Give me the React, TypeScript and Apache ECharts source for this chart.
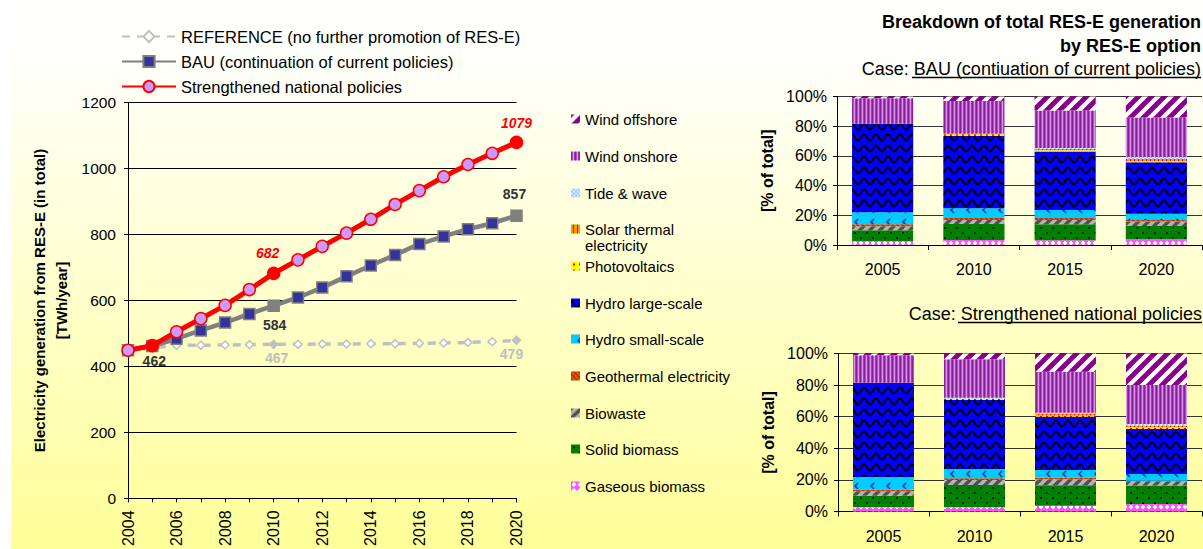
import React, { useEffect, useRef } from 'react';
import * as echarts from 'echarts';

// ---------- DATA ----------
const years = ['2004', '2005', '2006', '2007', '2008', '2009', '2010', '2011', '2012', '2013', '2014', '2015', '2016', '2017', '2018', '2019', '2020'];
const referenceValues = [449, 456, 464, 464, 465, 466, 467, 467, 468, 468, 469, 469, 470, 471, 473, 475, 479];
const bauValues = [449, 462, 484, 509, 533, 559, 584, 609, 639, 673, 706, 738, 771, 794, 816, 834, 857];
const strengthenedValues = [449, 463, 505, 545, 585, 633, 682, 723, 764, 804, 846, 891, 933, 975, 1012, 1046, 1079];

const lineNames = [
  'REFERENCE (no further promotion of RES-E)',
  'BAU (continuation of current policies)',
  'Strengthened national policies',
];

const barYears = ['2005', '2010', '2015', '2020'];
// stack order bottom -> top
const optionNames = [
  'Gaseous biomass',
  'Solid biomass',
  'Biowaste',
  'Geothermal electricity',
  'Hydro small-scale',
  'Hydro large-scale',
  'Photovoltaics',
  'Solar thermal electricity',
  'Tide & wave',
  'Wind onshore',
  'Wind offshore',
];
// shares [% of total] for 2005, 2010, 2015, 2020
const bauShares = [
  [2.5, 3.4, 3.2, 3.8],
  [7.5, 10.7, 10.8, 9.0],
  [2.7, 2.7, 2.8, 3.1],
  [1.3, 1.3, 1.3, 0.9],
  [8.0, 6.7, 5.4, 4.2],
  [59.7, 48.8, 39.4, 34.7],
  [0.0, 0.9, 0.9, 0.9],
  [0.0, 0.2, 0.9, 1.3],
  [0.0, 0.2, 0.6, 1.4],
  [17.2, 22.0, 25.3, 26.6],
  [1.1, 3.1, 9.4, 14.1],
];
const strengthenedShares = [
  [2.7, 2.7, 3.6, 4.8],
  [7.2, 14.1, 13.0, 11.6],
  [2.9, 3.2, 3.8, 2.8],
  [0.9, 1.1, 0.9, 0.2],
  [8.2, 5.8, 5.0, 4.4],
  [59.6, 43.6, 33.7, 28.4],
  [0.0, 0.9, 0.8, 1.3],
  [0.0, 0.0, 0.9, 0.6],
  [0.0, 0.6, 0.8, 1.3],
  [17.4, 24.4, 25.9, 24.6],
  [1.1, 3.6, 11.6, 20.0],
];
// legend order (top -> bottom) and vertical text centres
const legendOrder = [
  'Wind offshore',
  'Wind onshore',
  'Tide & wave',
  'Solar thermal electricity',
  'Photovoltaics',
  'Hydro large-scale',
  'Hydro small-scale',
  'Geothermal electricity',
  'Biowaste',
  'Solid biomass',
  'Gaseous biomass',
];
const legendCentres = [119, 156, 193, 229, 266, 303, 339, 376, 413, 449, 486];

const titleLines = 'Breakdown of total RES-E generation\nby RES-E option';
const caseBau = 'Case: BAU (contiuation of current policies)';
const caseStrengthened = 'Case: Strengthened national policies';

const FONT = '"Liberation Sans", Arial, sans-serif';

function makePattern(w: number, h: number, draw: (ctx: CanvasRenderingContext2D) => void) {
  const c = document.createElement('canvas');
  c.width = w;
  c.height = h;
  const ctx = c.getContext('2d') as CanvasRenderingContext2D;
  draw(ctx);
  return { image: c, repeat: 'repeat' } as any;
}

function diagStripes(size: number, bg: string, fg: string, lw: number) {
  return makePattern(size, size, (ctx) => {
    ctx.fillStyle = bg;
    ctx.fillRect(0, 0, size, size);
    ctx.strokeStyle = fg;
    ctx.lineWidth = lw;
    for (const k of [0, 1, 2]) {
      ctx.beginPath();
      ctx.moveTo(-2, k * size + 2);
      ctx.lineTo(k * size + 2, -2);
      ctx.stroke();
    }
  });
}

function buildPatterns(): Record<string, any> {
  return {
    'Wind offshore': diagStripes(13, '#FFFFFF', '#880088', 5),
    'Wind onshore': makePattern(4, 2, (ctx) => {
      const cols = ['#8A1E9C', '#B24CC6', '#DA98E8', '#A23AB6'];
      cols.forEach((c, i) => {
        ctx.fillStyle = c;
        ctx.fillRect(i, 0, 1, 2);
      });
    }),
    'Tide & wave': makePattern(4, 4, (ctx) => {
      ctx.fillStyle = '#99CCFF';
      ctx.fillRect(0, 0, 4, 4);
      ctx.fillStyle = '#D6EAFF';
      ctx.fillRect(0, 0, 2, 2);
      ctx.fillRect(2, 2, 2, 2);
    }),
    'Solar thermal electricity': makePattern(4, 2, (ctx) => {
      ctx.fillStyle = '#FF9900';
      ctx.fillRect(0, 0, 4, 2);
      ctx.fillStyle = '#FF0000';
      ctx.fillRect(2, 0, 1, 2);
    }),
    Photovoltaics: makePattern(6, 6, (ctx) => {
      ctx.fillStyle = '#FFFF00';
      ctx.fillRect(0, 0, 6, 6);
      ctx.fillStyle = '#FF0000';
      ctx.fillRect(2, 2, 2, 2);
    }),
    'Hydro large-scale': makePattern(12, 11, (ctx) => {
      ctx.fillStyle = '#0000FF';
      ctx.fillRect(0, 0, 12, 11);
      ctx.strokeStyle = '#000000';
      ctx.lineWidth = 2;
      ctx.beginPath();
      for (let x = -1; x <= 13; x += 0.5) {
        const y = 5.5 - 3 * Math.cos((2 * Math.PI * x) / 12);
        if (x === -1) ctx.moveTo(x, y);
        else ctx.lineTo(x, y);
      }
      ctx.stroke();
    }),
    'Hydro small-scale': makePattern(16, 12, (ctx) => {
      ctx.fillStyle = '#00CCFF';
      ctx.fillRect(0, 0, 16, 12);
      ctx.strokeStyle = '#1A2A9A';
      ctx.lineWidth = 1.5;
      ctx.beginPath();
      ctx.moveTo(10, 3);
      ctx.lineTo(7, 6);
      ctx.lineTo(10, 9);
      ctx.stroke();
    }),
    'Geothermal electricity': makePattern(5, 5, (ctx) => {
      ctx.fillStyle = '#B83300';
      ctx.fillRect(0, 0, 5, 5);
      ctx.strokeStyle = '#F06020';
      ctx.lineWidth = 1.3;
      for (const k of [-1, 0, 1]) {
        ctx.beginPath();
        ctx.moveTo(k * 5 - 1, -1);
        ctx.lineTo(k * 5 + 6, 6);
        ctx.stroke();
      }
    }),
    Biowaste: diagStripes(10, '#B4B4B4', '#505050', 3.4),
    'Solid biomass': makePattern(12, 10, (ctx) => {
      ctx.fillStyle = '#008000';
      ctx.fillRect(0, 0, 12, 10);
      ctx.fillStyle = '#002000';
      ctx.fillRect(2, 2, 2, 2);
      ctx.fillRect(8, 7, 2, 2);
    }),
    'Gaseous biomass': makePattern(6, 6, (ctx) => {
      ctx.fillStyle = '#FF55FF';
      ctx.fillRect(0, 0, 6, 6);
      ctx.fillStyle = '#FFFFFF';
      ctx.fillRect(2, 1, 2, 4);
      ctx.fillRect(1, 2, 4, 2);
    }),
  };
}

function lineData(values: number[], special: Record<number, any>) {
  return values.map((v, i) => (special[i] ? { value: v, ...special[i] } : v));
}

export default function App() {
  const ref = useRef<HTMLDivElement>(null);

  useEffect(() => {
    if (!ref.current) return;
    const chart = echarts.init(ref.current, undefined, { renderer: 'svg' });
    const patterns = buildPatterns();
    const i2010 = years.indexOf('2010');
    const i2020 = years.indexOf('2020');
    const i2005 = years.indexOf('2005');

    const labelBase = { show: true, fontFamily: FONT, fontWeight: 'bold', fontSize: 14 };

    const refSeries = {
      name: lineNames[0],
      type: 'line',
      xAxisIndex: 0,
      yAxisIndex: 0,
      symbol: 'diamond',
      symbolSize: 8,
      lineStyle: { color: '#C0C0C0', width: 3.5, type: [8, 7] },
      itemStyle: { color: '#FFFFFF', borderColor: '#C0C0C0', borderWidth: 1.5 },
      data: lineData(referenceValues, {
        [i2010]: {
          itemStyle: { color: '#C0C0C0' },
          label: { ...labelBase, position: 'bottom', distance: 2, offset: [3, 0], color: '#C0C0C0' },
        },
        [i2020]: {
          itemStyle: { color: '#C0C0C0' },
          label: { ...labelBase, position: 'bottom', distance: 2, offset: [-5, 0], color: '#C0C0C0' },
        },
      }),
      z: 2,
    };
    const bauSeries = {
      name: lineNames[1],
      type: 'line',
      xAxisIndex: 0,
      yAxisIndex: 0,
      symbol: 'rect',
      symbolSize: 11,
      lineStyle: { color: '#808080', width: 4.5 },
      itemStyle: { color: '#333399', borderColor: '#808080', borderWidth: 1.5 },
      data: lineData(bauValues, {
        [i2005]: {
          label: { ...labelBase, position: 'bottom', distance: 2, offset: [2, 0], color: '#333333' },
        },
        [i2010]: {
          itemStyle: { color: '#808080' },
          label: { ...labelBase, position: 'bottom', distance: 6, offset: [1, 0], color: '#333333' },
        },
        [i2020]: {
          itemStyle: { color: '#808080' },
          label: { ...labelBase, position: 'top', distance: 8, offset: [-2, 0], color: '#333333' },
        },
      }),
      z: 3,
    };
    const strSeries = {
      name: lineNames[2],
      type: 'line',
      xAxisIndex: 0,
      yAxisIndex: 0,
      symbol: 'circle',
      symbolSize: 12,
      lineStyle: { color: '#FF0000', width: 5 },
      itemStyle: { color: '#CC99FF', borderColor: '#FF0000', borderWidth: 1.5 },
      data: lineData(strengthenedValues, {
        [i2005]: { itemStyle: { color: '#FF0000' } },
        [i2010]: {
          itemStyle: { color: '#FF0000' },
          label: { ...labelBase, fontStyle: 'italic', position: 'top', distance: 7, offset: [-6, 0], color: '#FF0000' },
        },
        [i2020]: {
          itemStyle: { color: '#FF0000' },
          label: { ...labelBase, fontStyle: 'italic', position: 'top', distance: 6, offset: [0, 0], color: '#FF0000' },
        },
      }),
      z: 4,
    };

    const barSeries: any[] = [];
    optionNames.forEach((name, k) => {
      barSeries.push({
        name,
        type: 'bar',
        stack: 'bau',
        xAxisIndex: 1,
        yAxisIndex: 1,
        barCategoryGap: '33%',
        itemStyle: { color: patterns[name] },
        data: bauShares[k],
      });
      barSeries.push({
        name,
        type: 'bar',
        stack: 'str',
        xAxisIndex: 2,
        yAxisIndex: 2,
        barCategoryGap: '33%',
        itemStyle: { color: patterns[name] },
        data: strengthenedShares[k],
      });
    });

    const barLegends = legendOrder.map((name, i) => {
      const isSolar = name === 'Solar thermal electricity';
      return {
        data: [name],
        left: 571,
        top: isSolar ? legendCentres[i] - 24 : legendCentres[i] - 8,
        padding: 0,
        icon: 'rect',
        itemWidth: 9,
        itemHeight: 9,
        itemGap: 0,
        selectedMode: false,
        formatter: isSolar ? () => '\u00a0\nSolar thermal\nelectricity' : undefined,
        textStyle: {
          fontFamily: FONT,
          fontSize: 15,
          color: '#000',
          lineHeight: 16,
        },
      };
    });

    const axisText = { fontFamily: FONT, fontSize: 15.5, color: '#000' };

    const barX = (grid: number, margin: number) => ({
      type: 'category',
      gridIndex: grid,
      data: barYears,
      axisLine: { lineStyle: { color: '#000', width: 1 } },
      axisTick: { show: true, length: 5, lineStyle: { color: '#000' } },
      axisLabel: { ...axisText, fontSize: 16, margin },
      splitLine: { show: false },
    });
    const barY = (grid: number) => ({
      type: 'value',
      gridIndex: grid,
      min: 0,
      max: 100,
      interval: 20,
      name: '[% of total]',
      nameLocation: 'middle',
      nameGap: 62,
      nameTextStyle: { fontFamily: FONT, fontSize: 16, fontWeight: 'bold', color: '#000' },
      axisLine: { show: true, lineStyle: { color: '#000', width: 1 } },
      axisTick: { show: true, length: 4, lineStyle: { color: '#000' } },
      axisLabel: { ...axisText, fontSize: 16, margin: 10, formatter: '{value}%' },
      splitLine: { show: true, lineStyle: { color: '#333', width: 1 } },
    });

    const option: any = {
      animation: false,
      textStyle: { fontFamily: FONT },
      graphic: [
        {
          type: 'rect',
          z: -100,
          silent: true,
          shape: { x: 11, y: 0, width: 1192, height: 549 },
          style: {
            fill: new echarts.graphic.LinearGradient(0, 0, 0, 1, [
              { offset: 0, color: '#FFFFFF' },
              { offset: 0.12, color: '#FFFFFA' },
              { offset: 1, color: '#FFFF99' },
            ]),
          },
        },
        {
          type: 'text',
          right: 2,
          top: 10,
          silent: true,
          style: {
            text: titleLines,
            font: 'bold 18px ' + FONT,
            textAlign: 'right',
            lineHeight: 24,
            fill: '#000',
          },
        },
        {
          type: 'text',
          right: 2,
          top: 59,
          silent: true,
          style: { text: caseBau, font: '18px ' + FONT, textAlign: 'right', lineHeight: 20, fill: '#000' },
        },
        {
          type: 'text',
          right: 1,
          top: 304,
          silent: true,
          style: { text: caseStrengthened, font: '18px ' + FONT, textAlign: 'right', lineHeight: 20, fill: '#000' },
        },
        {
          type: 'line',
          silent: true,
          shape: { x1: 912, y1: 77.5, x2: 1201, y2: 77.5 },
          style: { stroke: '#000', lineWidth: 1.5 },
        },
        {
          type: 'line',
          silent: true,
          shape: { x1: 958, y1: 322.5, x2: 1202, y2: 322.5 },
          style: { stroke: '#000', lineWidth: 1.5 },
        },
      ],
      legend: [
        {
          data: lineNames,
          orient: 'vertical',
          left: 121,
          top: 28,
          padding: 0,
          itemWidth: 54,
          itemHeight: 14,
          itemGap: 8,
          selectedMode: false,
          textStyle: { fontFamily: FONT, fontSize: 16.5, color: '#000', lineHeight: 14 },
        },
        ...barLegends,
      ],
      grid: [
        { left: 128, top: 102.5, width: 388.5, height: 398 },
        { left: 837, top: 96.5, width: 365, height: 148.5 },
        { left: 838, top: 353.5, width: 364, height: 158 },
      ],
      xAxis: [
        {
          type: 'category',
          gridIndex: 0,
          data: years,
          boundaryGap: false,
          axisLine: { lineStyle: { color: '#000', width: 1 } },
          axisTick: { show: true, interval: 0, length: 4, lineStyle: { color: '#000' } },
          axisLabel: { ...axisText, fontSize: 16, interval: 1, rotate: 90, margin: 12 },
          splitLine: { show: false },
        },
        barX(1, 16),
        barX(2, 17),
      ],
      yAxis: [
        {
          type: 'value',
          gridIndex: 0,
          min: 0,
          max: 1200,
          interval: 200,
          name: 'Electricity generation from RES-E (in total)\n[TWh/year]',
          nameLocation: 'middle',
          nameGap: 56,
          nameTextStyle: { fontFamily: FONT, fontSize: 15, fontWeight: 'bold', color: '#000', lineHeight: 22 },
          axisLine: { show: true, lineStyle: { color: '#000', width: 1 } },
          axisTick: { show: true, length: 4, lineStyle: { color: '#000' } },
          axisLabel: { ...axisText, margin: 12, formatter: (v: number) => String(v) },
          splitLine: { show: true, lineStyle: { color: '#000', width: 1 } },
        },
        barY(1),
        barY(2),
      ],
      series: [refSeries, bauSeries, strSeries, ...barSeries],
    };

    chart.setOption(option);
    return () => chart.dispose();
  }, []);

  return (
    <div
      ref={ref}
      style={{ position: 'absolute', left: 0, top: 0, width: 1203, height: 549 }}
    />
  );
}
